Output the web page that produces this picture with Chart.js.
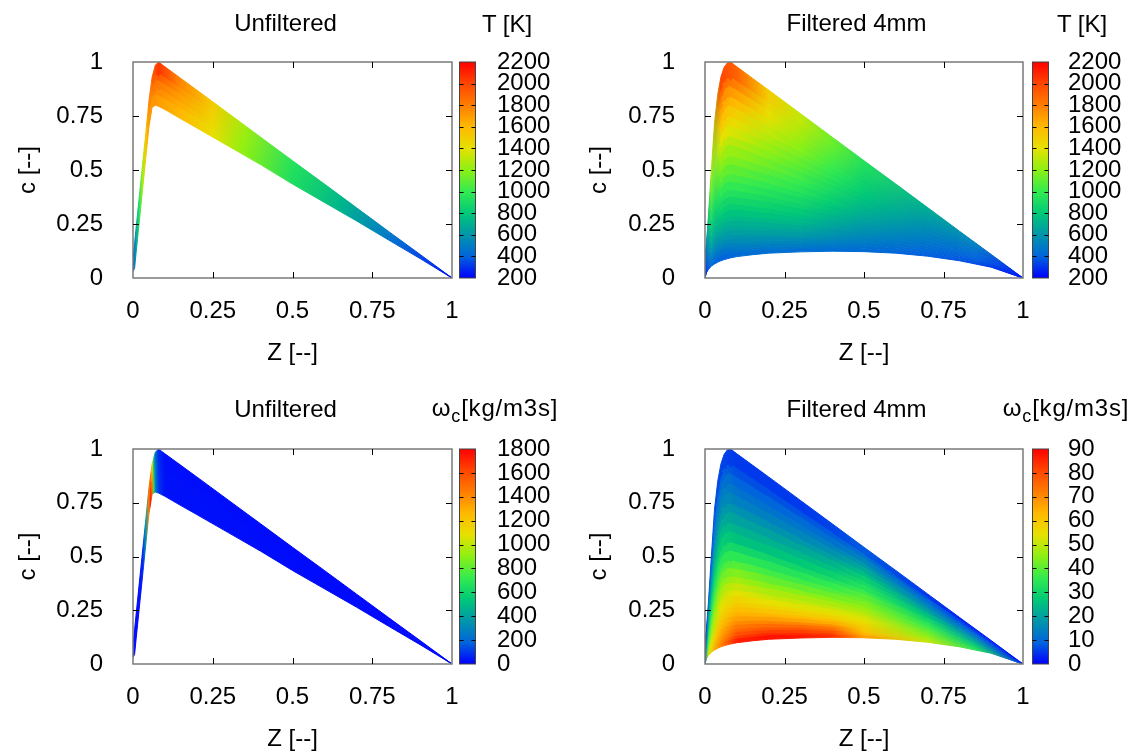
<!DOCTYPE html>
<html lang="en">
<head>
    <meta charset="UTF-8">
    <title>c-Z maps: T and omega_c, unfiltered / filtered 4mm</title>
    <script src="https://cdn.jsdelivr.net/npm/chart.js"></script>
    <style>
        html, body { margin: 0; padding: 0; background: #fff; }
        #page { position: relative; width: 1142px; height: 756px; overflow: hidden; font-family: "Liberation Sans", Arial, sans-serif; color: #000; }
        .panel { position: absolute; width: 571px; height: 378px; }
        .panel canvas { display: block; }
        .cbtitle { position: absolute; font-size: 24px; line-height: 28px; white-space: nowrap; transform: translateX(-50%); }
        .cbtitle.w { letter-spacing: 0.8px; }
        .cbtitle .sub { font-size: 18px; position: relative; top: 6px; }
    </style>
</head>
<body>
<div id="page">
    <div class="panel" style="left:0;top:0"><canvas id="chartTU" width="571" height="378"></canvas></div>
    <div class="panel" style="left:571px;top:0"><canvas id="chartTF" width="571" height="378"></canvas></div>
    <div class="panel" style="left:0;top:378px"><canvas id="chartWU" width="571" height="378"></canvas></div>
    <div class="panel" style="left:571px;top:378px"><canvas id="chartWF" width="571" height="378"></canvas></div>
    <div class="cbtitle" style="left:507px;top:10px">T [K]</div>
    <div class="cbtitle" style="left:1082px;top:10px">T [K]</div>
    <div class="cbtitle w" style="left:495px;top:394px">ω<span class="sub">c</span>[kg/m3s]</div>
    <div class="cbtitle w" style="left:1066px;top:394px">ω<span class="sub">c</span>[kg/m3s]</div>
</div>

<script>
    // ---- tick labels ----
    var zTicks = [0, 0.25, 0.5, 0.75, 1];
    var cTicks = [0, 0.25, 0.5, 0.75, 1];
    var tTicks = [200, 400, 600, 800, 1000, 1200, 1400, 1600, 1800, 2000, 2200];
    var wTicksUnf = [0, 200, 400, 600, 800, 1000, 1200, 1400, 1600, 1800];
    var wTicksFilt = [0, 10, 20, 30, 40, 50, 60, 70, 80, 90];

    // Z positions shared by every curve
    var zGrid = [0, 0.005, 0.01, 0.02, 0.03, 0.04, 0.05, 0.06, 0.07, 0.08, 0.1, 0.15, 0.2, 0.3, 0.4, 0.5, 0.6, 0.7, 0.8, 0.9, 1];

    // ---- unfiltered table: c of the curves, lower edge -> upper edge ----
    var unfCurves = [
        [0.03, 0.045, 0.12, 0.265, 0.41, 0.555, 0.7, 0.79, 0.8, 0.795, 0.78, 0.737, 0.695, 0.61, 0.525, 0.435, 0.35, 0.265, 0.177, 0.09, 0],
        [0.05, 0.083, 0.158, 0.303, 0.448, 0.593, 0.74, 0.837, 0.862, 0.863, 0.846, 0.799, 0.753, 0.66, 0.567, 0.471, 0.378, 0.285, 0.19, 0.096, 0],
        [0.07, 0.122, 0.197, 0.342, 0.487, 0.632, 0.78, 0.883, 0.923, 0.932, 0.912, 0.862, 0.812, 0.711, 0.61, 0.507, 0.407, 0.306, 0.204, 0.103, 0],
        [0.09, 0.16, 0.235, 0.38, 0.525, 0.67, 0.82, 0.93, 0.985, 1.0, 0.978, 0.924, 0.870, 0.761, 0.652, 0.543, 0.435, 0.326, 0.217, 0.109, 0]
    ];

    // ---- filtered 4mm table: c of the curves, lower edge -> upper edge ----
    var filtCurves = [
        [0, 0.025, 0.038, 0.055, 0.065, 0.073, 0.08, 0.085, 0.089, 0.093, 0.099, 0.108, 0.115, 0.121, 0.124, 0.122, 0.115, 0.101, 0.08, 0.05, 0],
        [0.003, 0.029, 0.045, 0.068, 0.085, 0.096, 0.106, 0.112, 0.116, 0.120, 0.125, 0.132, 0.138, 0.140, 0.140, 0.135, 0.125, 0.108, 0.084, 0.052, 0],
        [0.007, 0.034, 0.053, 0.084, 0.108, 0.124, 0.135, 0.143, 0.148, 0.152, 0.156, 0.161, 0.164, 0.163, 0.158, 0.149, 0.136, 0.116, 0.089, 0.054, 0],
        [0.011, 0.040, 0.062, 0.102, 0.134, 0.155, 0.169, 0.178, 0.184, 0.188, 0.191, 0.194, 0.194, 0.188, 0.179, 0.166, 0.149, 0.125, 0.094, 0.056, 0],
        [0.015, 0.047, 0.073, 0.122, 0.163, 0.190, 0.208, 0.219, 0.225, 0.229, 0.231, 0.230, 0.228, 0.217, 0.203, 0.185, 0.163, 0.135, 0.101, 0.059, 0],
        [0.02, 0.054, 0.084, 0.144, 0.196, 0.228, 0.250, 0.263, 0.270, 0.274, 0.275, 0.271, 0.266, 0.249, 0.230, 0.206, 0.179, 0.146, 0.107, 0.062, 0],
        [0.026, 0.063, 0.098, 0.171, 0.235, 0.275, 0.301, 0.316, 0.325, 0.329, 0.328, 0.320, 0.311, 0.287, 0.261, 0.231, 0.198, 0.160, 0.116, 0.065, 0],
        [0.033, 0.073, 0.115, 0.202, 0.281, 0.329, 0.361, 0.379, 0.388, 0.392, 0.389, 0.377, 0.364, 0.332, 0.298, 0.261, 0.221, 0.175, 0.125, 0.069, 0],
        [0.041, 0.084, 0.133, 0.237, 0.334, 0.392, 0.429, 0.450, 0.460, 0.465, 0.459, 0.443, 0.425, 0.383, 0.340, 0.295, 0.246, 0.193, 0.136, 0.074, 0],
        [0.05, 0.098, 0.154, 0.278, 0.393, 0.462, 0.505, 0.530, 0.542, 0.547, 0.539, 0.516, 0.493, 0.441, 0.388, 0.333, 0.275, 0.214, 0.149, 0.080, 0],
        [0.06, 0.112, 0.177, 0.322, 0.458, 0.539, 0.590, 0.619, 0.633, 0.637, 0.626, 0.598, 0.568, 0.505, 0.441, 0.375, 0.307, 0.236, 0.162, 0.085, 0],
        [0.07, 0.127, 0.200, 0.367, 0.524, 0.617, 0.675, 0.708, 0.723, 0.728, 0.714, 0.679, 0.644, 0.569, 0.494, 0.417, 0.339, 0.259, 0.176, 0.091, 0],
        [0.08, 0.141, 0.224, 0.411, 0.589, 0.695, 0.760, 0.797, 0.814, 0.819, 0.802, 0.761, 0.719, 0.633, 0.546, 0.459, 0.371, 0.281, 0.190, 0.097, 0],
        [0.09, 0.156, 0.247, 0.456, 0.655, 0.772, 0.845, 0.886, 0.904, 0.909, 0.890, 0.842, 0.795, 0.697, 0.599, 0.501, 0.403, 0.304, 0.203, 0.103, 0],
        [0.1, 0.17, 0.27, 0.5, 0.72, 0.85, 0.93, 0.975, 0.995, 1.0, 0.978, 0.924, 0.870, 0.761, 0.652, 0.543, 0.435, 0.326, 0.217, 0.109, 0]
    ];

    // ---- field values per band (rows) at Z stops (columns) ----
    var unfTStops = [0, 0.01, 0.02, 0.03, 0.04, 0.05, 0.065, 0.08, 0.15, 0.25, 0.35, 0.5, 0.65, 0.8, 1];
    var unfT = [
        [350, 650, 950, 1250, 1500, 1700, 1720, 1700, 1600, 1420, 1200, 920, 720, 470, 230],
        [350, 650, 950, 1250, 1520, 1740, 1820, 1820, 1680, 1460, 1220, 930, 730, 480, 230],
        [350, 650, 950, 1250, 1540, 1780, 1950, 2050, 1760, 1500, 1240, 950, 740, 490, 230]
    ];

    var unfWStops = [0, 0.02, 0.03, 0.04, 0.05, 0.055, 0.06, 0.065, 0.07, 0.08, 0.1, 1];
    var unfW = [
        [10, 20, 60, 350, 1400, 1750, 1500, 700, 280, 100, 30, 10],
        [10, 20, 60, 380, 1450, 1700, 1350, 600, 260, 90, 30, 10],
        [10, 20, 60, 400, 1450, 1500, 1100, 500, 220, 80, 25, 10]
    ];

    var filtStops = [0, 0.01, 0.02, 0.05, 0.1, 0.2, 0.3, 0.4, 0.5, 0.7, 0.85, 1];
    var filtT = [
        [280, 358, 418, 400, 429, 447, 444, 438, 431, 385, 353, 250],
        [285, 374, 457, 465, 491, 504, 497, 475, 453, 395, 358, 250],
        [290, 392, 501, 540, 563, 570, 557, 518, 480, 407, 364, 250],
        [300, 414, 552, 625, 638, 641, 625, 567, 510, 421, 372, 250],
        [305, 438, 608, 702, 703, 705, 683, 613, 543, 436, 380, 250],
        [310, 465, 668, 783, 780, 780, 746, 662, 579, 454, 389, 250],
        [320, 498, 725, 880, 880, 857, 814, 717, 620, 474, 400, 250],
        [330, 535, 791, 991, 991, 941, 886, 777, 668, 498, 413, 250],
        [345, 578, 866, 1115, 1099, 1038, 966, 841, 717, 526, 427, 250],
        [355, 625, 950, 1245, 1224, 1138, 1040, 902, 765, 556, 444, 250],
        [370, 675, 1028, 1400, 1359, 1232, 1114, 964, 815, 588, 461, 250],
        [385, 725, 1106, 1580, 1488, 1326, 1193, 1023, 854, 620, 478, 250],
        [400, 775, 1183, 1755, 1680, 1417, 1256, 1075, 893, 652, 495, 250],
        [415, 825, 1261, 2000, 1900, 1506, 1319, 1125, 931, 684, 512, 250]
    ];
    var filtW = [
        [12, 51, 59, 71, 86, 88, 87, 84, 67, 51, 34, 5],
        [12, 49, 57, 68, 79, 82, 82, 79, 63, 49, 33, 5],
        [11, 47, 54, 65, 73, 75, 75, 73, 60, 47, 32, 5],
        [10, 44, 51, 61, 67, 67, 66, 65, 58, 45, 30, 4],
        [10, 41, 48, 57, 62, 60, 59, 58, 55, 43, 29, 4],
        [9, 38, 45, 53, 57, 54, 53, 53, 52, 41, 27, 4],
        [8, 36, 42, 48, 51, 48, 48, 48, 48, 38, 25, 3],
        [8, 32, 37, 42, 44, 41, 41, 42, 44, 35, 22, 3],
        [7, 28, 32, 35, 35, 34, 34, 36, 40, 31, 19, 3],
        [6, 24, 27, 28, 26, 26, 27, 29, 34, 26, 16, 2],
        [5, 20, 21, 22, 20, 20, 21, 23, 29, 20, 12, 2],
        [4, 16, 16, 16, 14, 14, 15, 17, 22, 15, 9, 2],
        [3, 12, 11, 12, 9, 9, 10, 11, 15, 10, 6, 1],
        [2, 9, 7, 6, 5, 5, 5, 6, 8, 5, 3, 1]
    ];

    // colour palette (fraction, r, g, b)
    var paletteStops = [
        [0.0, 0, 0, 255], [0.1, 0, 100, 220], [0.2, 0, 150, 170], [0.3, 0, 200, 120],
        [0.4, 50, 235, 80], [0.5, 140, 240, 20], [0.6, 230, 225, 0], [0.7, 255, 185, 0],
        [0.8, 255, 125, 0], [0.9, 255, 70, 0], [1.0, 255, 0, 0]
    ];

    Chart.defaults.font.family = '"Liberation Sans", Arial, sans-serif';
    Chart.defaults.font.size = 24;
    Chart.defaults.color = '#000';

    function palette(v, vmin, vmax) {
        var f = Math.max(0, Math.min(1, (v - vmin) / (vmax - vmin)));
        for (var i = 1; i < paletteStops.length; i++) {
            var a = paletteStops[i - 1], b = paletteStops[i];
            if (f <= b[0]) {
                var t = (f - a[0]) / (b[0] - a[0]);
                return 'rgb(' + Math.round(a[1] + t * (b[1] - a[1])) + ',' + Math.round(a[2] + t * (b[2] - a[2])) + ',' + Math.round(a[3] + t * (b[3] - a[3])) + ')';
            }
        }
        return 'rgb(255,0,0)';
    }

    function bandGradient(chart, stops, vals, vmin, vmax) {
        var xs = chart.scales.x;
        if (!chart.chartArea || !xs) return palette(vals[0], vmin, vmax);
        var g = chart.ctx.createLinearGradient(xs.getPixelForValue(0), 0, xs.getPixelForValue(1), 0);
        stops.forEach(function (z, k) { g.addColorStop(z, palette(vals[k], vmin, vmax)); });
        return g;
    }

    function points(curve) {
        return zGrid.map(function (z, k) { return { x: z, y: curve[k] }; });
    }

    // filled bands between neighbouring curves
    function bandDatasets(curves, stops, values, vmin, vmax) {
        return curves.map(function (curve, i) {
            var band = Math.min(i, values.length - 1);
            return {
                data: points(curve),
                fill: i < curves.length - 1 ? '+1' : false,
                backgroundColor: function (ctx) { return bandGradient(ctx.chart, stops, values[band], vmin, vmax); },
                borderColor: 'rgba(0,0,0,0)',
                borderWidth: 0,
                pointRadius: 0,
                tension: 0,
                order: 1
            };
        });
    }

    // soft edge on every curve (mean colour of the two bands it separates)
    function edgeWidth(s, curves, i) {
        if (i === 0 || i === curves.length - 1) return 1;
        var k0 = s.p0DataIndex, k1 = s.p1DataIndex;
        var gap = Math.min(curves[i + 1][k0] - curves[i][k0], curves[i][k0] - curves[i - 1][k0],
            curves[i + 1][k1] - curves[i][k1], curves[i][k1] - curves[i - 1][k1]);
        var dx = s.p1.x - s.p0.x, dy = s.p1.y - s.p0.y;
        var cos = Math.abs(dx) / Math.sqrt(dx * dx + dy * dy);
        var w = 0.5 * gap * s.chart.chartArea.height * cos;
        return Math.max(1, Math.min(8, w));
    }

    function edgeDatasets(curves, stops, values, vmin, vmax) {
        var n = curves.length;
        return curves.map(function (curve, i) {
            var vals;
            if (i === 0) vals = values[0];
            else if (i === n - 1) vals = values[n - 2];
            else vals = values[i].map(function (v, k) { return (v + values[i - 1][k]) / 2; });
            return {
                data: points(curve),
                fill: false,
                borderColor: function (ctx) { return bandGradient(ctx.chart, stops, vals, vmin, vmax); },
                borderWidth: 1,
                segment: { borderWidth: function (s) { return edgeWidth(s, curves, i); } },
                pointRadius: 0,
                tension: 0,
                order: 0
            };
        });
    }

    // frame with inward ticks + colour bar
    var framePlugin = {
        id: 'frame',
        afterDatasetsDraw: function (chart, args, opts) {
            var ctx = chart.ctx, a = chart.chartArea, sx = chart.scales.x, sy = chart.scales.y, cb = chart.scales.cb;
            ctx.save();
            ctx.strokeStyle = '#7a7a7a';
            ctx.lineWidth = 1.5;
            ctx.strokeRect(a.left, a.top, a.right - a.left, a.bottom - a.top);

            ctx.strokeStyle = '#000';
            ctx.lineWidth = 1;
            ctx.beginPath();
            zTicks.slice(1, -1).forEach(function (v) {
                var x = Math.round(sx.getPixelForValue(v)) + 0.5;
                ctx.moveTo(x, a.bottom); ctx.lineTo(x, a.bottom - 6);
                ctx.moveTo(x, a.top); ctx.lineTo(x, a.top + 6);
            });
            cTicks.slice(1, -1).forEach(function (v) {
                var y = Math.round(sy.getPixelForValue(v)) + 0.5;
                ctx.moveTo(a.left, y); ctx.lineTo(a.left + 6, y);
                ctx.moveTo(a.right, y); ctx.lineTo(a.right - 6, y);
            });
            ctx.stroke();

            var x0 = a.right + opts.gap, w = 16;
            var g = ctx.createLinearGradient(0, a.bottom, 0, a.top);
            paletteStops.forEach(function (s) { g.addColorStop(s[0], 'rgb(' + s[1] + ',' + s[2] + ',' + s[3] + ')'); });
            ctx.fillStyle = g;
            ctx.fillRect(x0, a.top, w, a.bottom - a.top);
            ctx.strokeStyle = '#444';
            ctx.strokeRect(x0, a.top, w, a.bottom - a.top);
            ctx.strokeStyle = '#000';
            ctx.beginPath();
            cb.ticks.forEach(function (t, i) {
                if (i === 0 || i === cb.ticks.length - 1) return;
                var y = Math.round(cb.getPixelForValue(t.value)) + 0.5;
                ctx.moveTo(x0, y); ctx.lineTo(x0 + 4, y);
                ctx.moveTo(x0 + w, y); ctx.lineTo(x0 + w - 4, y);
            });
            ctx.stroke();
            ctx.restore();
        }
    };

    function makeChart(id, p) {
        var vmin = p.cbTicks[0], vmax = p.cbTicks[p.cbTicks.length - 1];
        var datasets = bandDatasets(p.curves, p.stops, p.values, vmin, vmax)
            .concat(edgeDatasets(p.curves, p.stops, p.values, vmin, vmax));
        return new Chart(document.getElementById(id), {
            type: 'line',
            data: { datasets: datasets },
            options: {
                responsive: false,
                animation: false,
                events: [],
                layout: { padding: 0 },
                plugins: {
                    legend: { display: false },
                    tooltip: { enabled: false },
                    title: { display: true, text: p.title, color: '#000', font: { size: 24, weight: 'normal' }, padding: p.titlePad },
                    frame: { gap: p.cbGap }
                },
                scales: {
                    x: {
                        type: 'linear', min: 0, max: 1,
                        grid: { display: false, drawTicks: false }, border: { display: false },
                        afterBuildTicks: function (ax) { ax.ticks = zTicks.map(function (v) { return { value: v }; }); },
                        afterFit: function (ax) { ax.height = p.xHeight; },
                        ticks: { padding: 19, autoSkip: false, maxRotation: 0, callback: function (v) { return String(v); } },
                        title: { display: true, text: 'Z [--]', padding: { top: 0, bottom: p.xTitlePad } }
                    },
                    y: {
                        type: 'linear', min: 0, max: 1,
                        grid: { display: false, drawTicks: false }, border: { display: false },
                        afterBuildTicks: function (ax) { ax.ticks = cTicks.map(function (v) { return { value: v }; }); },
                        afterFit: function (ax) { ax.width = p.yWidth; },
                        ticks: { padding: 30, autoSkip: false, callback: function (v) { return String(v); } },
                        title: { display: true, text: 'c [--]', padding: { top: 14, bottom: 0 } }
                    },
                    cb: {
                        axis: 'y', type: 'linear', position: 'right', min: vmin, max: vmax,
                        grid: { display: false, drawTicks: false }, border: { display: false },
                        afterBuildTicks: function (ax) { ax.ticks = p.cbTicks.map(function (v) { return { value: v }; }); },
                        afterFit: function (ax) { ax.width = 119; },
                        ticks: { padding: 45, autoSkip: false, callback: function (v) { return String(v); } }
                    }
                }
            },
            plugins: [framePlugin]
        });
    }

    var topRow = { titlePad: { top: 10, bottom: 23.2 }, xHeight: 100, xTitlePad: 10.6 };
    var botRow = { titlePad: { top: 17.6, bottom: 24.6 }, xHeight: 92, xTitlePad: 2 };

    makeChart('chartTU', Object.assign({ title: 'Unfiltered', curves: unfCurves, stops: unfTStops, values: unfT, cbTicks: tTicks, yWidth: 133, cbGap: 7.5 }, topRow));
    makeChart('chartTF', Object.assign({ title: 'Filtered 4mm', curves: filtCurves, stops: filtStops, values: filtT, cbTicks: tTicks, yWidth: 134, cbGap: 9.5 }, topRow));
    makeChart('chartWU', Object.assign({ title: 'Unfiltered', curves: unfCurves, stops: unfWStops, values: unfW, cbTicks: wTicksUnf, yWidth: 133, cbGap: 7.5 }, botRow));
    makeChart('chartWF', Object.assign({ title: 'Filtered 4mm', curves: filtCurves, stops: filtStops, values: filtW, cbTicks: wTicksFilt, yWidth: 134, cbGap: 9.5 }, botRow));
</script>
</body>
</html>
